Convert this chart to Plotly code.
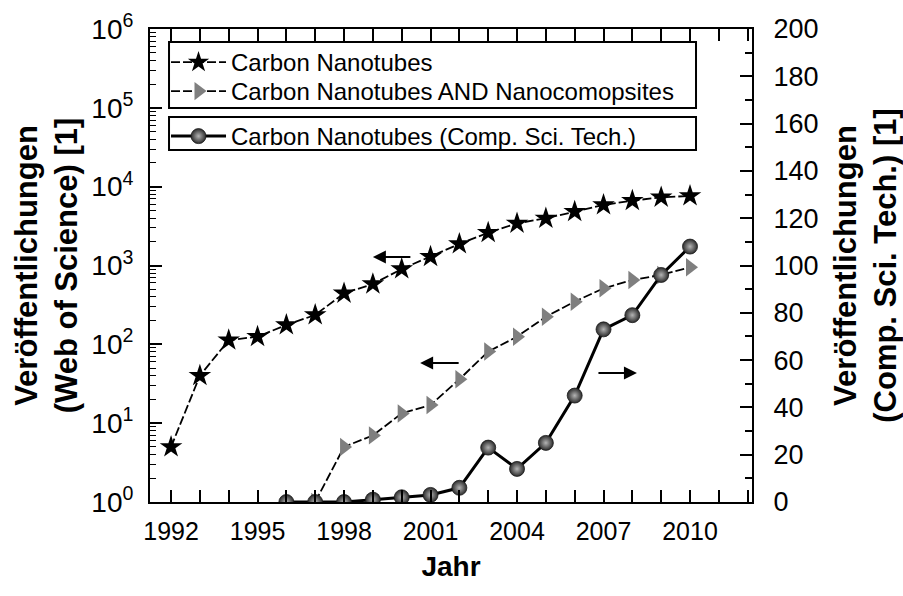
import plotly.graph_objects as go

# Publication counts per year
years = list(range(1992, 2011))
cnt_all = [5, 40, 113, 125, 176, 236, 444, 582, 903, 1294, 1875, 2608,
           3428, 3966, 4818, 5857, 6640, 7330, 7620]

years_nc = list(range(1997, 2011))
cnt_nc = [1, 5, 7, 13.3, 17, 36, 81, 125, 224, 348, 513, 655, 760, 950]

years_cst = list(range(1996, 2011))
cnt_cst = [0, 0, 0, 1, 2, 3, 6, 23, 14, 25, 45, 73, 79, 96, 108]

# Axis tick labels
x_ticks = [1992, 1995, 1998, 2001, 2004, 2007, 2010]
y_log_vals = [1, 10, 100, 1000, 10000, 100000, 1000000]
y_log_text = ["10<sup>%d</sup>" % i for i in range(7)]

FONT = "Liberation Sans, Arial, sans-serif"

fig = go.Figure()

fig.add_trace(go.Scatter(
    x=years, y=cnt_all, name="Carbon Nanotubes", mode="lines+markers",
    line=dict(color="black", width=1.8, dash="9px,3px"),
    marker=dict(symbol="star", size=17, color="black"),
    legend="legend", yaxis="y",
))
fig.add_trace(go.Scatter(
    x=years_nc, y=cnt_nc, name="Carbon Nanotubes AND Nanocomopsites",
    mode="lines+markers",
    line=dict(color="black", width=1.8, dash="9px,3px"),
    marker=dict(symbol="triangle-right", size=16, color="#7f7f7f"),
    legend="legend2", yaxis="y",
))
fig.add_trace(go.Scatter(
    x=years_cst, y=cnt_cst, name="Carbon Nanotubes (Comp. Sci. Tech.)",
    mode="lines+markers",
    line=dict(color="black", width=3),
    marker=dict(symbol="circle", size=15, color="#2b2b2b",
                gradient=dict(type="radial", color="#b4b4b4"),
                line=dict(color="#1a1a1a", width=0.8)),
    legend="legend3", yaxis="y2",
))

axis_common = dict(
    showline=True, linecolor="black", linewidth=2,
    ticks="inside", tickcolor="black", tickwidth=1.5,
    showgrid=False, zeroline=False, automargin=False,
)

title_font = dict(family=FONT, size=31, color="black")

legend_common = dict(
    xanchor="left", yanchor="top", bgcolor="rgba(0,0,0,0)", borderwidth=0,
    font=dict(family=FONT, size=24, color="black"), itemwidth=55,
)

fig.update_layout(
    width=903, height=596,
    margin=dict(l=150, r=151, t=29, b=94),
    paper_bgcolor="white", plot_bgcolor="white",
    font=dict(family=FONT, color="black"),
    xaxis=dict(
        **axis_common,
        range=[1991.27, 2012.15],
        tickfont=dict(family=FONT, size=25, color="black"),
        tickmode="array", tickvals=x_ticks, ticklen=12,
        mirror="allticks", ticklabelstandoff=6,
        minor=dict(dtick=1, tick0=1992, ticks="inside", ticklen=7,
                   tickcolor="black", tickwidth=1.5),
        title=dict(text="<b>Jahr</b>", font=dict(family=FONT, size=28),
                   standoff=12),
    ),
    yaxis=dict(
        **axis_common,
        type="log", range=[0, 6],
        tickfont=dict(family=FONT, size=28, color="black"),
        tickmode="array", tickvals=y_log_vals, ticktext=y_log_text,
        ticklen=12, ticklabelstandoff=9,
        minor=dict(dtick="D1", ticks="inside", ticklen=6,
                   tickcolor="black", tickwidth=1),
        title=dict(text="<b>Veröffentlichungen<br>(Web of Science) [1]</b>",
                   font=title_font, standoff=4),
    ),
    yaxis2=dict(
        **axis_common,
        overlaying="y", side="right", range=[0, 200],
        tickfont=dict(family=FONT, size=27, color="black"),
        tickmode="linear", tick0=0, dtick=20, ticklen=12,
        ticklabelstandoff=14,
        minor=dict(dtick=10, ticks="inside", ticklen=7,
                   tickcolor="black", tickwidth=1.5),
        title=dict(text="<b>Veröffentlichungen<br>(Comp. Sci. Tech.) [1]</b>",
                   font=title_font, standoff=18),
    ),
    legend=dict(x=0.0266, y=0.9767, **legend_common),
    legend2=dict(x=0.0266, y=0.9154, **legend_common),
    legend3=dict(x=0.0266, y=0.8203, **legend_common),
    showlegend=True,
)

# Legend frames
for y0, y1 in [(0.833, 0.9725), (0.744, 0.814)]:
    fig.add_shape(type="rect", xref="paper", yref="paper",
                  x0=0.0316, x1=0.907, y0=y0, y1=y1,
                  line=dict(color="black", width=2), layer="above")

# Arrows pointing to the axis each series belongs to
arrows = [
    dict(x=1999.0, y=3.108, yref="y", ax=39),
    dict(x=2000.64, y=1.763, yref="y", ax=40),
    dict(x=2008.16, y=54.5, yref="y2", ax=-40),
]
for a in arrows:
    fig.add_annotation(x=a["x"], y=a["y"], xref="x", yref=a["yref"],
                       ax=a["ax"], ay=0, text="", showarrow=True,
                       arrowhead=2, arrowsize=1.3, arrowwidth=2,
                       arrowcolor="black")

fig.write_html("out.html")
